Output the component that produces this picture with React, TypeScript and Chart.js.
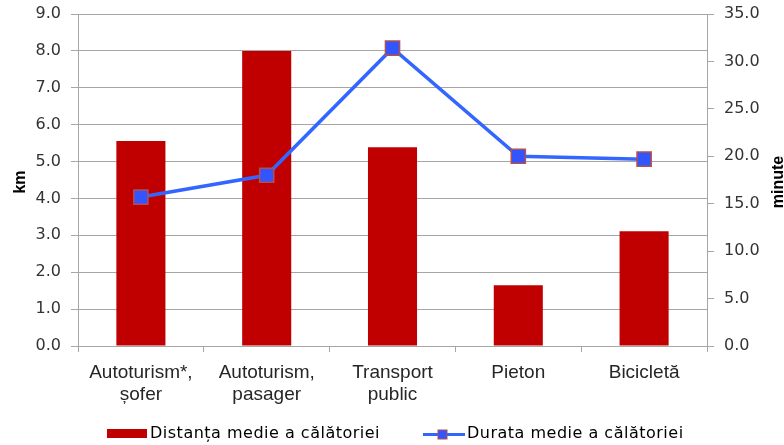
import { useEffect, useRef } from 'react';
import { Chart, registerables } from 'chart.js';

Chart.register(...registerables);

const categories: (string | string[])[] = [
  ['Autoturism*,', 'șofer'],
  ['Autoturism,', 'pasager'],
  ['Transport', 'public'],
  'Pieton',
  'Bicicletă',
];
const distanceKm = [5.56, 8.0, 5.39, 1.65, 3.11];
const durationMin = [15.7, 18.0, 31.4, 20.0, 19.7];
const seriesLabels = ['Distanța medie a călătoriei', 'Durata medie a călătoriei'];
const axisTitles = ['km', 'minute'];
const kmAxis = { min: 0, max: 9, step: 1 };
const minAxis = { min: 0, max: 35, step: 5 };

const BAR_COLOR = '#C00000';
const LINE_COLOR = '#3366FF';
const POINT_FILL = '#3355FF';
const POINT_BORDER = '#B05050';
const GRID = '#A6A6A6';

const customPlugin = {
  id: 'customDecor',
  afterDraw(chart: any) {
    const ctx: CanvasRenderingContext2D = chart.ctx;
    ctx.save();
    ctx.fillStyle = '#000';
    ctx.font = 'bold 16px "Liberation Sans"';
    ctx.textAlign = 'center';
    ctx.textBaseline = 'alphabetic';
    const midY = (chart.chartArea.top + chart.chartArea.bottom) / 2 + 2;
    ctx.save();
    ctx.translate(25, midY);
    ctx.rotate(-Math.PI / 2);
    ctx.fillText(axisTitles[0], 0, 0);
    ctx.restore();
    ctx.save();
    ctx.translate(783, midY);
    ctx.rotate(-Math.PI / 2);
    ctx.fillText(axisTitles[1], 0, 0);
    ctx.restore();

    const ly = 433.5;
    ctx.fillStyle = BAR_COLOR;
    ctx.fillRect(107, ly - 4.5, 40, 9);
    ctx.font = '16px "DejaVu Sans"';
    (ctx as any).letterSpacing = '0.5px';
    ctx.textAlign = 'left';
    ctx.textBaseline = 'middle';
    ctx.fillStyle = '#000';
    ctx.fillText(seriesLabels[0], 150, ly);

    ctx.strokeStyle = LINE_COLOR;
    ctx.lineWidth = 3;
    ctx.beginPath();
    ctx.moveTo(423, ly + 1);
    ctx.lineTo(465, ly + 1);
    ctx.stroke();
    ctx.fillStyle = POINT_FILL;
    ctx.fillRect(438, ly - 3.5, 9, 9);
    ctx.strokeStyle = POINT_BORDER;
    ctx.lineWidth = 1;
    ctx.strokeRect(438, ly - 3.5, 9, 9);
    ctx.fillStyle = '#000';
    ctx.fillText(seriesLabels[1], 467, ly);
    ctx.restore();
  },
};

export default function App() {
  const ref = useRef<HTMLCanvasElement | null>(null);

  useEffect(() => {
    document.body.style.margin = '0';
    if (!ref.current) return;
    const chart = new Chart(ref.current, {
      type: 'bar',
      data: {
        labels: categories as any,
        datasets: [
          {
            type: 'line',
            label: seriesLabels[1],
            data: durationMin,
            yAxisID: 'y1',
            borderColor: LINE_COLOR,
            borderWidth: 3.5,
            backgroundColor: POINT_FILL,
            pointStyle: 'rect',
            pointRadius: 10,
            pointBackgroundColor: POINT_FILL,
            pointBorderColor: POINT_BORDER,
            pointBorderWidth: 1.5,
            tension: 0,
            order: 0,
          } as any,
          {
            type: 'bar',
            label: seriesLabels[0],
            data: distanceKm,
            yAxisID: 'y',
            backgroundColor: BAR_COLOR,
            categoryPercentage: 1,
            barPercentage: 0.39,
            order: 1,
          },
        ],
      },
      options: {
        animation: false,
        responsive: true,
        maintainAspectRatio: false,
        layout: { padding: { top: 14, left: 0, right: 0, bottom: 0 } },
        plugins: {
          legend: { display: false },
          tooltip: { enabled: false },
        },
        scales: {
          x: {
            offset: true,
            grid: {
              offset: true,
              drawOnChartArea: false,
              color: GRID,
              tickLength: 6,
            },
            border: { color: GRID },
            ticks: {
              color: '#262626',
              padding: 10,
              maxRotation: 0,
              autoSkip: false,
              font: { family: '"Liberation Sans Narrow", "Arial Narrow", "Liberation Sans", sans-serif', size: 19, lineHeight: 1.15 },
            },
            afterFit: (s: any) => {
              s.height = 99;
              s.paddingLeft = 0;
              s.paddingRight = 0;
            },
          },
          y: {
            position: 'left',
            min: kmAxis.min,
            max: kmAxis.max,
            ticks: {
              stepSize: kmAxis.step,
              color: '#333',
              padding: 10,
              font: { family: '"DejaVu Sans"', size: 16 },
              callback: (v: any) => Number(v).toFixed(1),
            },
            grid: { color: GRID, tickLength: 7 },
            border: { color: GRID },
            afterFit: (s: any) => {
              s.width = 78;
              s.paddingTop = 0;
              s.paddingBottom = 0;
            },
          },
          y1: {
            position: 'right',
            min: minAxis.min,
            max: minAxis.max,
            ticks: {
              stepSize: minAxis.step,
              color: '#333',
              padding: 10,
              font: { family: '"DejaVu Sans"', size: 16 },
              callback: (v: any) => Number(v).toFixed(1),
            },
            grid: { drawOnChartArea: false, color: GRID, tickLength: 7 },
            border: { color: GRID },
            afterFit: (s: any) => {
              s.width = 77;
              s.paddingTop = 0;
              s.paddingBottom = 0;
            },
          },
        },
      },
      plugins: [customPlugin],
    });
    return () => chart.destroy();
  }, []);

  return (
    <div style={{ width: 784, height: 445, position: 'relative' }}>
      <canvas ref={ref} />
    </div>
  );
}
